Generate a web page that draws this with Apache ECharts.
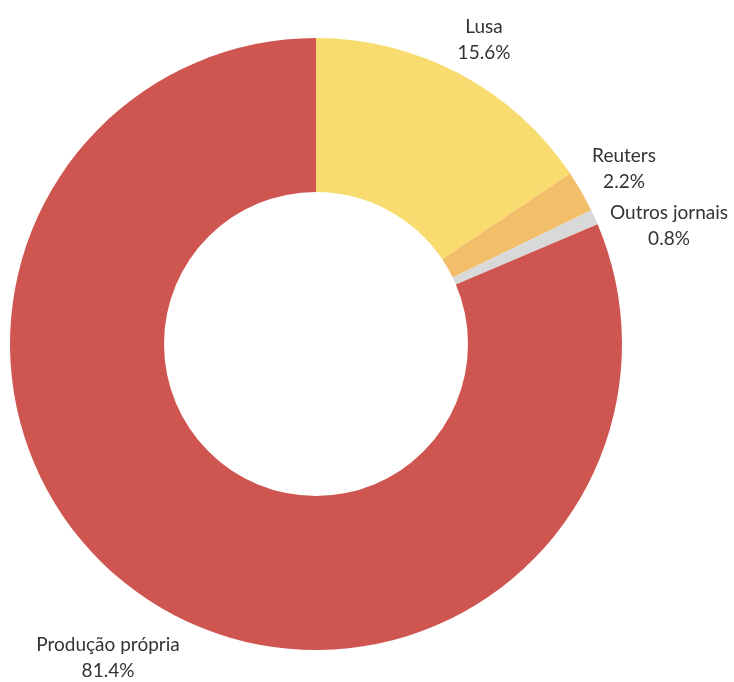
<!DOCTYPE html>
<html>
<head>
<meta charset="utf-8">
<style>
  html, body { margin: 0; padding: 0; background: #ffffff; }
  #chart { width: 734px; height: 682px; }
</style>
<script src="https://cdn.jsdelivr.net/npm/echarts@6/dist/echarts.min.js"></script>
</head>
<body>
<div id="chart"></div>
<script>
// Sources of published news items (share, %)
const categories = ['Lusa', 'Reuters', 'Outros jornais', 'Produção própria'];
const shares = [15.6, 2.2, 0.8, 81.4];

// Slice colours, in category order
const colors = ['#F8DC70', '#F3BE69', '#D9D9D9', '#CF5650'];

// Where each two-line label block is centred
const labelAnchors = [[484, 40], [624, 169], [669, 226], [108, 658]];

const chart = echarts.init(document.getElementById('chart'), null, { renderer: 'canvas' });

chart.setOption({
  animation: false,
  backgroundColor: '#ffffff',
  series: [{
    type: 'pie',
    center: [316, 344],
    radius: [152, 306],
    startAngle: 90,
    clockwise: true,
    avoidLabelOverlap: false,
    itemStyle: { borderWidth: 0 },
    label: {
      show: true,
      position: 'outside',
      formatter: p => p.name + '\n' + p.value.toFixed(1) + '%',
      fontFamily: 'Lato, "Open Sans", sans-serif',
      fontSize: 19,
      lineHeight: 26,
      color: '#333333',
      align: 'center'
    },
    labelLine: { show: false },
    labelLayout: p => ({
      x: labelAnchors[p.dataIndex][0],
      y: labelAnchors[p.dataIndex][1],
      align: 'center',
      verticalAlign: 'middle'
    }),
    emphasis: { disabled: true },
    data: categories.map((name, i) => ({
      name: name,
      value: shares[i],
      itemStyle: { color: colors[i] }
    }))
  }]
});
</script>
</body>
</html>
